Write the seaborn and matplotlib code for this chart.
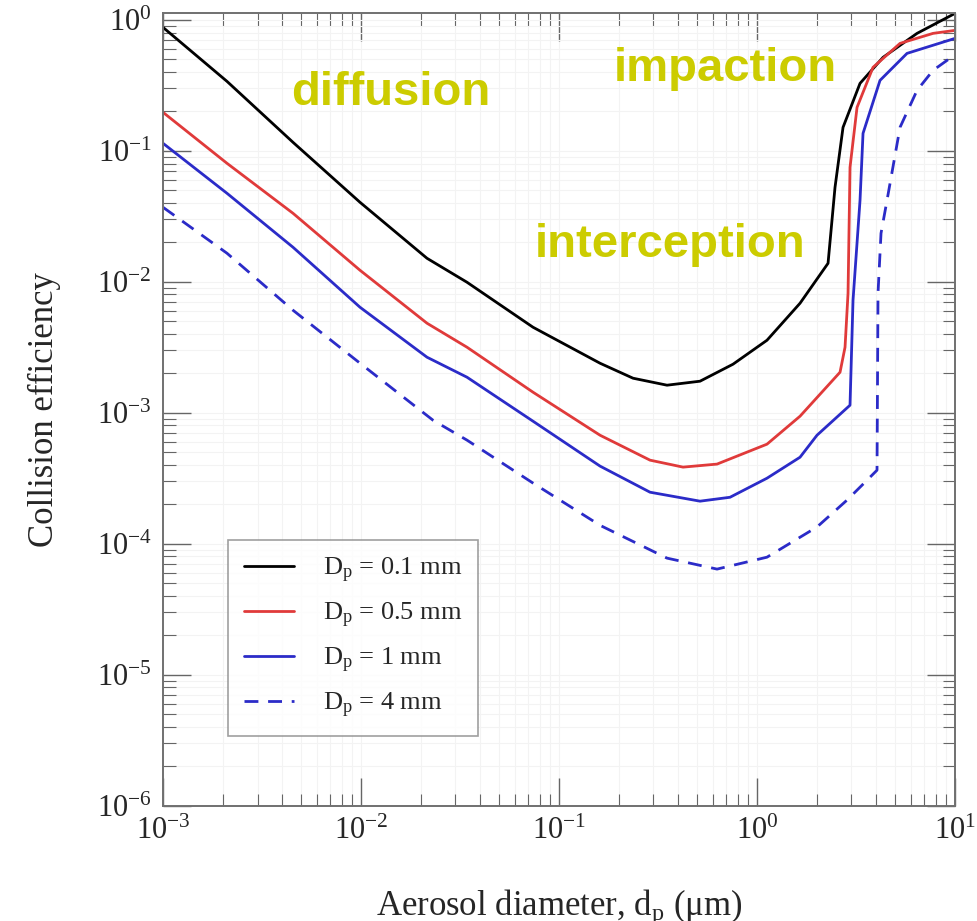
import numpy as np
import pandas as pd
import matplotlib
matplotlib.use("Agg")
import matplotlib.pyplot as plt
import seaborn as sns
from matplotlib.ticker import LogLocator, NullFormatter

# Dados (diametro do aerossol em um, eficiencia de colisao)
x_01mm = [0.001, 0.002104, 0.004535, 0.009883, 0.02154, 0.0343, 0.0739, 0.1611,
          0.2365, 0.3511, 0.5154, 0.7564, 1.123, 1.649, 2.284, 2.477, 2.719, 3.313,
          4.329, 6.429, 10.0]
y_01mm = [0.8765, 0.3392, 0.1161, 0.04044, 0.01511, 0.009913, 0.004495, 0.002387,
          0.001834, 0.001622, 0.00174, 0.002346, 0.003576, 0.006854, 0.01384,
          0.05265, 0.1511, 0.3275, 0.5173, 0.7889, 1.121]

x_05mm = [0.001, 0.002104, 0.004535, 0.009883, 0.02154, 0.0343, 0.0739, 0.1611,
          0.2882, 0.4229, 0.6281, 1.123, 1.649, 2.626, 2.783, 2.882, 2.949, 3.2,
          3.853, 5.275, 7.743, 10.0]
y_05mm = [0.1967, 0.0803, 0.03333, 0.01224, 0.004823, 0.003162, 0.001434, 0.000673,
          0.000434, 0.000384, 0.000405, 0.000575, 0.00094, 0.002038, 0.003162,
          0.008172, 0.07482, 0.2148, 0.434, 0.6616, 0.7889, 0.8315]

x_1mm = [0.001, 0.002104, 0.004535, 0.009883, 0.02154, 0.0343, 0.0739, 0.1611,
         0.2882, 0.5154, 0.7305, 1.123, 1.649, 2.009, 2.949, 3.054, 3.313, 3.431,
         4.18, 5.722, 10.0]
y_1mm = [0.1141, 0.04738, 0.01834, 0.006387, 0.002653, 0.001866, 0.000861, 0.000391,
         0.000247, 0.000211, 0.000226, 0.000316, 0.000457, 0.000673, 0.001141,
         0.007225, 0.04188, 0.136, 0.3451, 0.5549, 0.7223]

x_4mm = [0.001, 0.002104, 0.004535, 0.009883, 0.0231, 0.0343, 0.0739, 0.1611,
         0.3511, 0.6281, 1.123, 2.009, 2.848, 3.594, 4.037, 4.084, 4.229, 4.535,
         5.275, 6.429, 7.743, 9.112, 10.0]
y_4mm = [0.03704, 0.01651, 0.006059, 0.002387, 0.000876, 0.000617, 0.00029, 0.000138,
         7.75e-5, 6.39e-5, 7.88e-5, 0.000134, 0.000215, 0.000305, 0.000364,
         0.008172, 0.02345, 0.04188, 0.1511, 0.2896, 0.4116, 0.4907, 0.5358]

legendas = [r"D$_\mathrm{p}$ = 0.1 mm", r"D$_\mathrm{p}$ = 0.5 mm",
            r"D$_\mathrm{p}$ = 1 mm", r"D$_\mathrm{p}$ = 4 mm"]
regimes = ["diffusion", "impaction", "interception"]

# Estilo
sns.set_style("white")
plt.rcParams['font.family'] = ['Liberation Serif', 'DejaVu Serif']
plt.rcParams['mathtext.fontset'] = 'custom'
plt.rcParams['mathtext.rm'] = 'Liberation Serif'
plt.rcParams['mathtext.it'] = 'Liberation Serif:italic'

fig = plt.figure(figsize=(9.78, 9.21), dpi=100)
ax = fig.add_axes([0.1667, 0.1254, 0.8098, 0.860])

series = [(x_01mm, y_01mm, 'black', '-'),
          (x_05mm, y_05mm, '#e03a3a', '-'),
          (x_1mm, y_1mm, '#2b2bc8', '-'),
          (x_4mm, y_4mm, '#2b2bc8', (0, (5, 3.5)))]
for (xs, ys, cor, estilo), nome in zip(series, legendas):
    df = pd.DataFrame({'d': xs, 'eff': ys})
    sns.lineplot(data=df, x='d', y='eff', ax=ax, color=cor, linestyle=estilo,
                 linewidth=2.0, sort=False, estimator=None, label=nome)

ax.set_xscale('log')
ax.set_yscale('log')
ax.set_xlim(1e-3, 1e1)
ax.set_ylim(1e-6, 1.12)

ax.xaxis.set_minor_locator(LogLocator(base=10, subs=np.arange(2, 10), numticks=20))
ax.yaxis.set_minor_locator(LogLocator(base=10, subs=np.arange(2, 10), numticks=20))
ax.xaxis.set_minor_formatter(NullFormatter())
ax.yaxis.set_minor_formatter(NullFormatter())

ax.grid(True, which='both', color='#f3f3f3', linewidth=0.8)
for s in ax.spines.values():
    s.set_color('#707070')
    s.set_linewidth(1.4)
ax.tick_params(which='both', direction='in', top=True, right=True,
               bottom=True, left=True, color='#666666')
ax.tick_params(which='major', length=20, width=1.0, labelsize=22, pad=8)
ax.tick_params(which='minor', length=9, width=0.8)

ax.set_xlabel(r"Aerosol diameter, d$_\mathrm{p}$ ($\mathrm{\mu}$m)", fontsize=25, labelpad=30)
ax.set_ylabel("Collision efficiency", fontsize=25, labelpad=26)

leg = ax.legend(loc='lower left', bbox_to_anchor=(0.082, 0.088), borderaxespad=0,
                fontsize=19, frameon=True, fancybox=False, edgecolor='#888888',
                handlelength=1.9, handletextpad=1.1, labelspacing=0.6,
                borderpad=0.6)
leg.get_frame().set_linewidth(1.2)

amarelo = '#cccc00'
pos = [(0.287, 0.900), (0.710, 0.930), (0.640, 0.708)]
for txt, (px, py) in zip(regimes, pos):
    ax.text(px, py, txt, transform=ax.transAxes, ha='center', va='center',
            fontsize=34, fontweight='bold', color=amarelo,
            family=['Liberation Sans', 'DejaVu Sans'])

fig.savefig("out.png", dpi=100)
